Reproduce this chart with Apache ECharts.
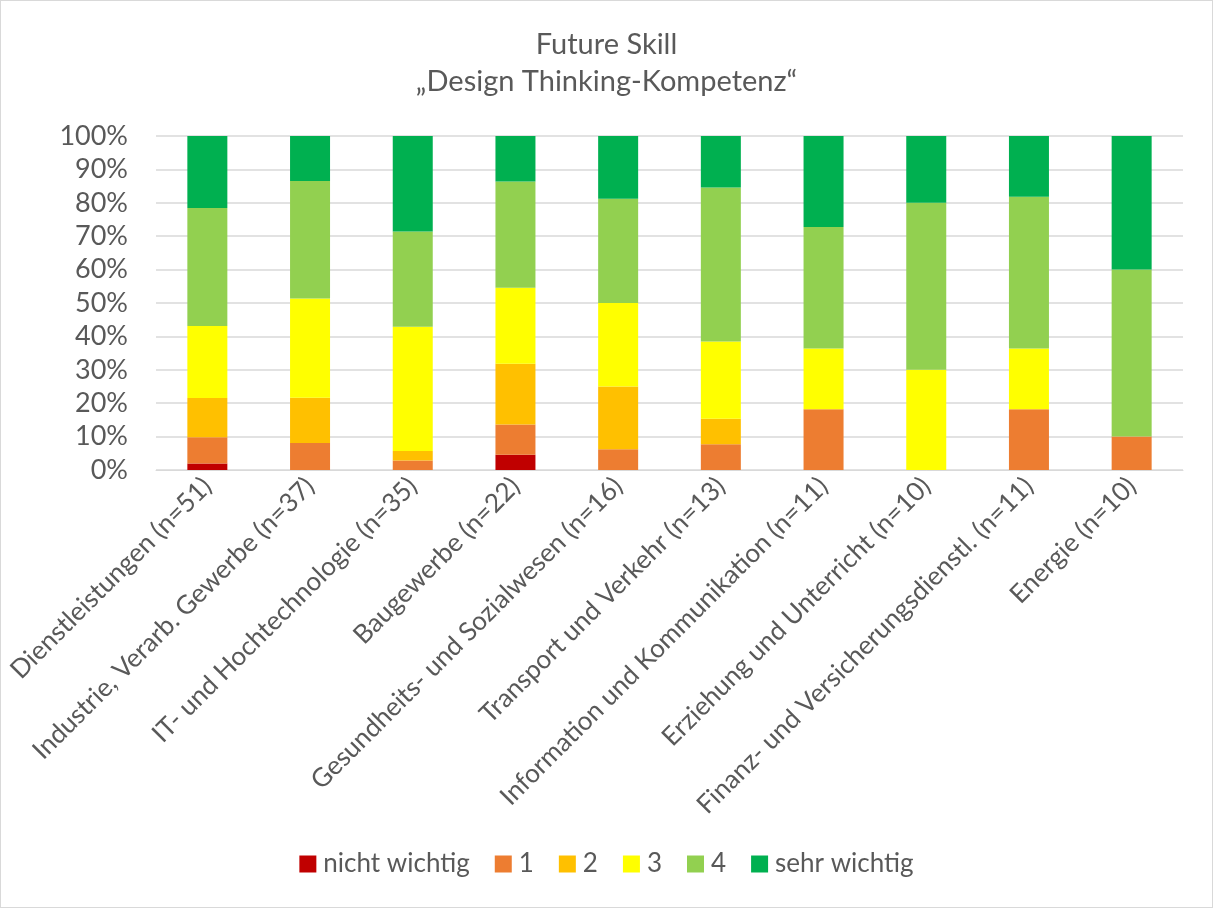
<!DOCTYPE html>
<html>
<head>
<meta charset="utf-8">
<script src="https://cdn.jsdelivr.net/npm/echarts@6/dist/echarts.min.js"></script>
<style>
  html, body { margin: 0; padding: 0; background: #fff; }
  #chart { width: 1211px; height: 906px; border: 1px solid #d9d9d9; }
</style>
</head>
<body>
<div id="chart"></div>
<script>
const categories = [
  'Dienstleistungen (n=51)',
  'Industrie, Verarb. Gewerbe (n=37)',
  'IT- und Hochtechnologie (n=35)',
  'Baugewerbe (n=22)',
  'Gesundheits- und Sozialwesen (n=16)',
  'Transport und Verkehr (n=13)',
  'Information und Kommunikation (n=11)',
  'Erziehung und Unterricht (n=10)',
  'Finanz- und Versicherungsdienstl. (n=11)',
  'Energie (n=10)'
]

// percentages per answer level
const nichtWichtig = [1.96, 0, 0, 4.55, 0, 0, 0, 0, 0, 0]
const stufe1 = [7.84, 8.11, 2.86, 9.09, 6.25, 7.69, 18.18, 0, 18.18, 10]
const stufe2 = [11.76, 13.51, 2.86, 18.18, 18.75, 7.69, 0, 0, 0, 0]
const stufe3 = [21.57, 29.73, 37.14, 22.73, 25, 23.08, 18.18, 30, 18.18, 0]
const stufe4 = [35.29, 35.14, 28.57, 31.82, 31.25, 46.15, 36.36, 50, 45.45, 50]
const sehrWichtig = [21.57, 13.51, 28.57, 13.64, 18.75, 15.38, 27.27, 20, 18.18, 40]

const seriesDefs = [
  { name: 'nicht wichtig', color: '#C00000', data: nichtWichtig },
  { name: '1', color: '#ED7D31', data: stufe1 },
  { name: '2', color: '#FFC000', data: stufe2 },
  { name: '3', color: '#FFFF00', data: stufe3 },
  { name: '4', color: '#92D050', data: stufe4 },
  { name: 'sehr wichtig', color: '#00B050', data: sehrWichtig }
]

const font = 'Lato, "Open Sans", sans-serif'
const textColor = '#595959'

const chart = echarts.init(document.getElementById('chart'))
chart.setOption({
  animation: false,
  backgroundColor: '#fff',
  textStyle: { fontFamily: font, color: textColor },
  title: {
    text: 'Future Skill\n„Design Thinking-Kompetenz“',
    left: 'center',
    top: 20,
    textStyle: { fontFamily: font, fontSize: 29, fontWeight: 'normal', color: textColor, lineHeight: 37 }
  },
  legend: {
    bottom: 25,
    left: 'center',
    itemWidth: 17,
    itemHeight: 17,
    itemGap: 25,
    icon: 'rect',
    textStyle: { fontFamily: font, fontSize: 26, color: textColor, padding: [0, 0, 0, 2] },
    data: seriesDefs.map((s) => s.name)
  },
  grid: { left: 155, right: 29, top: 135, bottom: 437, containLabel: false },
  xAxis: {
    type: 'category',
    data: categories,
    axisLine: { lineStyle: { color: '#d9d9d9' } },
    axisTick: { show: false },
    axisLabel: { rotate: 45, interval: 0, fontFamily: font, fontSize: 26, color: textColor, margin: 12 }
  },
  yAxis: {
    type: 'value',
    min: 0,
    max: 100,
    interval: 10,
    axisLine: { show: false },
    axisTick: { show: false },
    splitLine: { lineStyle: { color: '#d9d9d9', width: 1.5 } },
    axisLabel: { formatter: '{value}%', fontFamily: font, fontSize: 27, color: textColor, margin: 28 }
  },
  series: seriesDefs.map((s) => ({
    name: s.name,
    type: 'bar',
    stack: 'total',
    barWidth: 40,
    itemStyle: { color: s.color },
    data: s.data
  }))
})
</script>
</body>
</html>
